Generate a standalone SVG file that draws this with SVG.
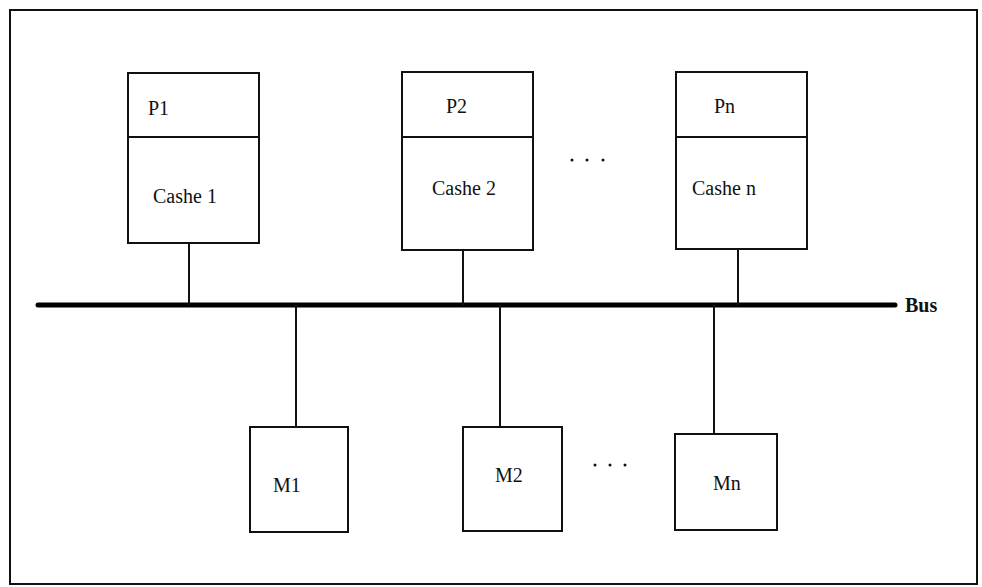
<svg xmlns="http://www.w3.org/2000/svg" width="982" height="587" viewBox="0 0 982 587">
<style>
.box{fill:#fff;stroke:#111;stroke-width:2}
.ln{stroke:#111;stroke-width:2;fill:none}
.bus{stroke:#000;stroke-width:5;stroke-linecap:round}
.t{font-family:"Liberation Serif",serif;font-size:20px;fill:#111}
.dot{fill:#111}
</style>
<rect x="0" y="0" width="982" height="587" fill="#fff"/>
<rect x="10" y="10" width="967" height="574" class="ln"/>
<g id="connectors">
<line class="bus" x1="38" y1="305" x2="895" y2="305"/>
<line class="ln" x1="189" y1="243" x2="189" y2="305"/>
<line class="ln" x1="463" y1="250" x2="463" y2="305"/>
<line class="ln" x1="738" y1="249" x2="738" y2="305"/>
<line class="ln" x1="296" y1="305" x2="296" y2="427"/>
<line class="ln" x1="500" y1="305" x2="500" y2="427"/>
<line class="ln" x1="714" y1="305" x2="714" y2="434"/>
</g>
<g id="bus-label"><text class="t" x="905" y="312" font-weight="bold" font-size="18">Bus</text></g>
<g id="node-p1">
<rect class="box" x="128" y="73" width="131" height="170"/>
<line class="ln" x1="128" y1="137" x2="259" y2="137"/>
<text class="t" x="148" y="115">P1</text>
<text class="t" x="153" y="203">Cashe 1</text>
</g>
<g id="node-p2">
<rect class="box" x="402" y="72" width="131" height="178"/>
<line class="ln" x1="402" y1="137" x2="533" y2="137"/>
<text class="t" x="446" y="113">P2</text>
<text class="t" x="432" y="195">Cashe 2</text>
</g>
<g id="node-pn">
<rect class="box" x="676" y="72" width="131" height="177"/>
<line class="ln" x1="676" y1="137" x2="807" y2="137"/>
<text class="t" x="714" y="113">Pn</text>
<text class="t" x="692" y="195">Cashe n</text>
</g>
<g id="dots-top">
<circle class="dot" cx="572" cy="160" r="1.5"/>
<circle class="dot" cx="587" cy="160" r="1.5"/>
<circle class="dot" cx="603" cy="160" r="1.5"/>
</g>
<g id="node-m1">
<rect class="box" x="250" y="427" width="98" height="105"/>
<text class="t" x="273" y="492">M1</text>
</g>
<g id="node-m2">
<rect class="box" x="463" y="427" width="99" height="104"/>
<text class="t" x="495" y="482">M2</text>
</g>
<g id="node-mn">
<rect class="box" x="675" y="434" width="102" height="96"/>
<text class="t" x="713" y="490">Mn</text>
</g>
<g id="dots-bottom">
<circle class="dot" cx="595" cy="465" r="1.5"/>
<circle class="dot" cx="610" cy="465" r="1.5"/>
<circle class="dot" cx="625" cy="465" r="1.5"/>
</g>
</svg>
